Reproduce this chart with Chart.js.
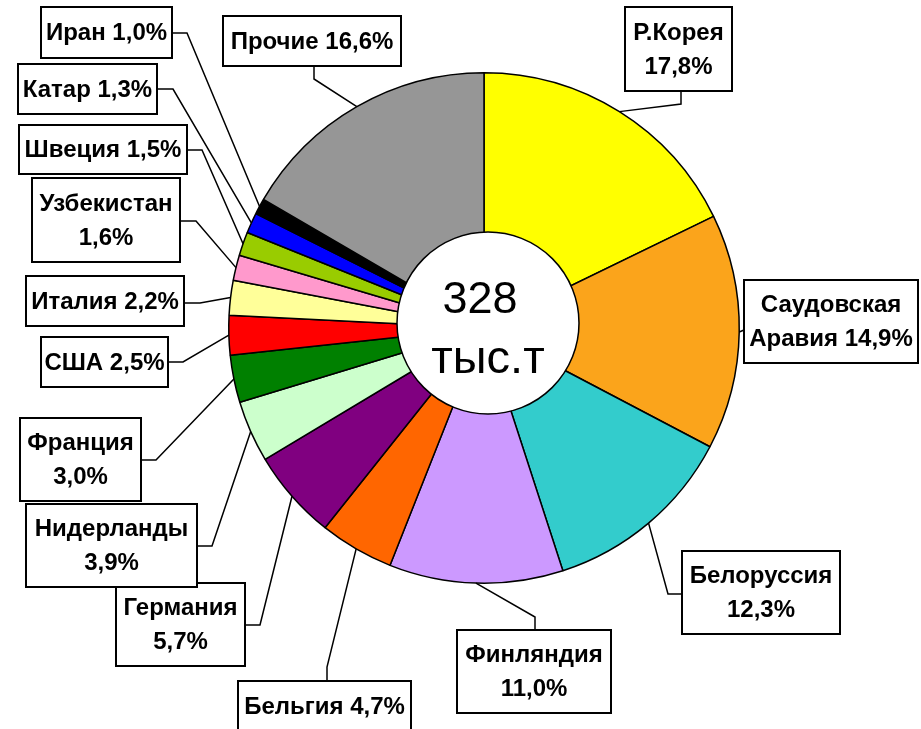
<!DOCTYPE html>
<html><head><meta charset="utf-8">
<script src="https://cdn.jsdelivr.net/npm/chart.js@4/dist/chart.umd.min.js"></script>
<style>html,body{margin:0;padding:0;background:#fff}#wrap{width:921px;height:729px;position:relative;background:#fff}</style>
</head><body><div id="wrap"><canvas id="c"></canvas></div>
<script>
// ---- data ----
const categories = ['Р.Корея','Саудовская Аравия','Белоруссия','Финляндия','Бельгия','Германия','Нидерланды','Франция','США','Италия','Узбекистан','Швеция','Катар','Иран','Прочие'];
const shares = [17.8,14.9,12.3,11.0,4.7,5.7,3.9,3.0,2.5,2.2,1.6,1.5,1.3,1.0,16.6];
const totalValue = '328';
const totalUnit = 'тыс.т';

// ---- styles ----
const colors = ['#FFFF00','#FBA41B','#33CCCC','#CC99FF','#FF6600','#800080','#CCFFCC','#008000','#FF0000','#FFFF99','#FF99CC','#99CC00','#0000FF','#000000','#969696'];
// label boxes: [x1,y1,x2,y2], line mode, elbow points of the leader
const labelLayout = [
  {box:[625,7,732,91],   mode:'two',   elbow:[[681,91],[681,104]]},
  {box:[744,280,918,363],mode:'words', elbow:[[744,330]]},
  {box:[682,551,840,634],mode:'two',   elbow:[[682,594],[668,594]]},
  {box:[457,630,611,713],mode:'two',   elbow:[[535,630],[535,617]]},
  {box:[238,681,411,731],mode:'one',   elbow:[[327,681],[327,667]]},
  {box:[116,583,245,666],mode:'two',   elbow:[[245,625],[260,625]]},
  {box:[26,504,197,587], mode:'two',   elbow:[[197,546],[212,546]]},
  {box:[20,418,141,501], mode:'two',   elbow:[[141,460],[156,460]]},
  {box:[41,337,168,387], mode:'one',   elbow:[[168,362],[183,362]]},
  {box:[26,276,184,326], mode:'one',   elbow:[[184,303],[200,303]]},
  {box:[32,178,180,262], mode:'two',   elbow:[[180,221],[196,221]]},
  {box:[19,125,187,174], mode:'one',   elbow:[[187,150],[202,150]]},
  {box:[18,64,157,114],  mode:'one',   elbow:[[157,89],[173,89]]},
  {box:[41,7,172,58],    mode:'one',   elbow:[[172,33],[187,33]]},
  {box:[223,16,401,66],  mode:'one',   elbow:[[314,66],[314,79]]}
];
const labelFont = 'bold 24px "Liberation Sans", Arial, sans-serif';
const centerFont = '45px "Liberation Sans", Arial, sans-serif';
const unitFont = '47px "Liberation Sans", Arial, sans-serif';

function pct(v){ return v.toFixed(1).replace('.', ',') + '%'; }
function labelLines(i){
  const name = categories[i], p = pct(shares[i]), m = labelLayout[i].mode;
  if (m === 'one') return [name + ' ' + p];
  if (m === 'two') return [name, p];
  const w = name.split(' ');
  return [w[0], w.slice(1).join(' ') + ' ' + p];
}

const overlay = {
  id: 'overlay',
  afterDatasetsDraw(chart){
    const ctx = chart.ctx;
    const arcs = chart.getDatasetMeta(0).data;
    const c0 = arcs[0].getProps(['x','y','outerRadius'], true);
    // center hole
    const hx = c0.x + 4, hy = c0.y - 5, hr = 91;
    ctx.save();
    ctx.beginPath(); ctx.arc(hx, hy, hr, 0, Math.PI*2);
    ctx.fillStyle = '#fff'; ctx.fill();
    ctx.lineWidth = 1.5; ctx.strokeStyle = '#000'; ctx.stroke();
    ctx.fillStyle = '#000'; ctx.textAlign = 'center'; ctx.textBaseline = 'alphabetic';
    ctx.font = centerFont;
    ctx.fillText(totalValue, hx - 8, hy - 10);
    ctx.font = unitFont;
    ctx.fillText(totalUnit, hx, hy + 50);
    // leaders
    ctx.lineWidth = 1.5; ctx.strokeStyle = '#000';
    arcs.forEach((el, i) => {
      const p = el.getProps(['x','y','startAngle','endAngle','outerRadius'], true);
      const mid = (p.startAngle + p.endAngle) / 2;
      const ax = p.x + Math.cos(mid) * p.outerRadius, ay = p.y + Math.sin(mid) * p.outerRadius;
      const L = labelLayout[i];
      ctx.beginPath();
      ctx.moveTo(L.elbow[0][0], L.elbow[0][1]);
      for (let k = 1; k < L.elbow.length; k++) ctx.lineTo(L.elbow[k][0], L.elbow[k][1]);
      ctx.lineTo(ax, ay);
      ctx.stroke();
    });
    // boxes
    ctx.font = labelFont;
    arcs.forEach((el, i) => {
      const L = labelLayout[i];
      const [x1,y1,x2,y2] = L.box;
      ctx.fillStyle = '#fff';
      ctx.fillRect(x1, y1, x2-x1, y2-y1);
      ctx.lineWidth = 2; ctx.strokeStyle = '#000';
      ctx.strokeRect(x1, y1, x2-x1, y2-y1);
      const lines = labelLines(i);
      const lh = 34;
      const cy = (y1+y2)/2, cx = (x1+x2)/2;
      ctx.fillStyle = '#000'; ctx.textAlign = 'center'; ctx.textBaseline = 'middle';
      lines.forEach((t, k) => {
        ctx.fillText(t, cx, cy + (k - (lines.length-1)/2) * lh + 1);
      });
    });
    ctx.restore();
  }
};

new Chart(document.getElementById('c'), {
  type: 'pie',
  data: {
    labels: categories,
    datasets: [{ data: shares, backgroundColor: colors, borderColor: '#000', borderWidth: 1.5 }]
  },
  options: {
    responsive: true, maintainAspectRatio: false, animation: false,
    layout: { padding: { left: 228, right: 181, top: 72, bottom: 145 } },
    plugins: { legend: { display: false }, tooltip: { enabled: false } }
  },
  plugins: [overlay]
});
</script></body></html>
